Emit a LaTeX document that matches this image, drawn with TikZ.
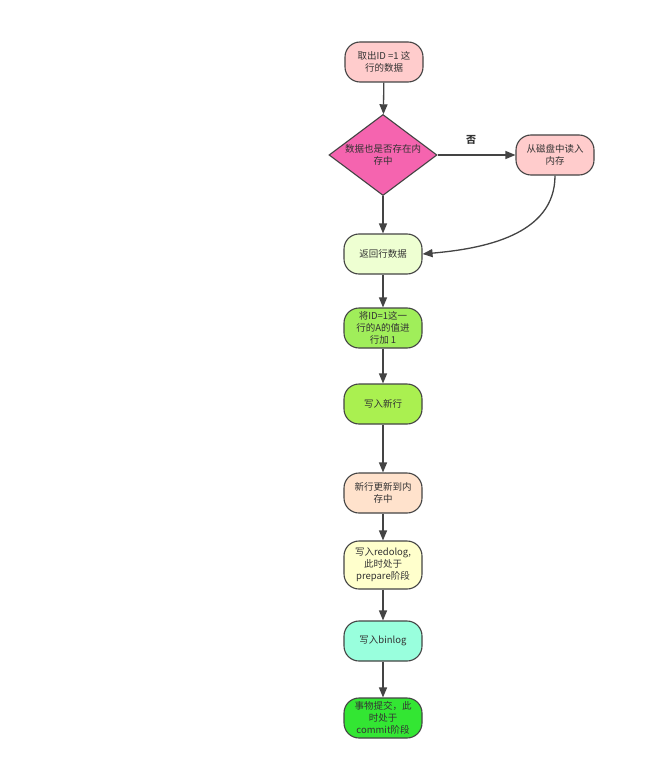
\documentclass[tikz,border=0pt]{standalone}
\usepackage{fontspec}
\setmainfont{Noto Sans CJK SC}
\usetikzlibrary{shapes.geometric,arrows.meta}
\definecolor{bord}{HTML}{444444}
\definecolor{txt}{HTML}{333333}
\tikzset{
  box/.style={draw=bord, line width=1.1pt, rounded corners=15pt, minimum width=78pt, minimum height=40pt, align=center, font=\fontsize{9.5}{12}\selectfont, text=txt, inner sep=2pt},
  dia/.style={draw=bord, line width=1.1pt, diamond, aspect=1.33, minimum width=108pt, minimum height=81pt, inner sep=0pt, align=center, font=\fontsize{9.5}{12}\selectfont, text=txt},
  arr/.style={draw=bord, line width=1.3pt, -{Triangle[length=10pt,width=8pt]}}
}
\begin{document}
\begin{tikzpicture}[x=1pt,y=-1pt]
\useasboundingbox[fill=white] (0,0) rectangle (667,778);
\node[box, fill={rgb,255:red,255;green,204;blue,204}] (n1) at (384,62) {取出ID =1 这\\行的数据};
\node[dia, fill={rgb,255:red,245;green,100;blue,175}] (d) at (383,155) {数据也是否存在内\\存中};
\node[box, fill={rgb,255:red,255;green,204;blue,204}] (r) at (555,155) {从磁盘中读入\\内存};
\node[box, fill={rgb,255:red,238;green,255;blue,210}] (n3) at (383,254) {返回行数据};
\node[box, fill={rgb,255:red,160;green,238;blue,90}] (n4) at (383,328) {将ID=1这一\\行的A的值进\\行加 1};
\node[box, fill={rgb,255:red,170;green,240;blue,80}] (n5) at (383,404) {写入新行};
\node[box, fill={rgb,255:red,255;green,226;blue,204}] (n6) at (383,493) {新行更新到内\\存中};
\node[box, fill={rgb,255:red,255;green,255;blue,204}, minimum height=48pt] (n7) at (383,565) {写入redolog,\\此时处于\\prepare阶段};
\node[box, fill={rgb,255:red,153;green,255;blue,221}] (n8) at (383,641) {写入binlog};
\node[box, fill={rgb,255:red,51;green,230;blue,51}] (n9) at (383,718) {事物提交，此\\时处于\\commit阶段};
\node[font=\fontsize{10}{12}\selectfont\bfseries, text=txt] (no) at (471,140) {否};
\draw[arr] (n1) -- (d);
\draw[arr] (d) -- (r);
\draw[arr] (d) -- (n3);
\draw[arr] (r.south) to[out=-90,in=5] (n3.east);
\draw[arr] (n3) -- (n4);
\draw[arr] (n4) -- (n5);
\draw[arr] (n5) -- (n6);
\draw[arr] (n6) -- (n7);
\draw[arr] (n7) -- (n8);
\draw[arr] (n8) -- (n9);
\end{tikzpicture}
\end{document}
